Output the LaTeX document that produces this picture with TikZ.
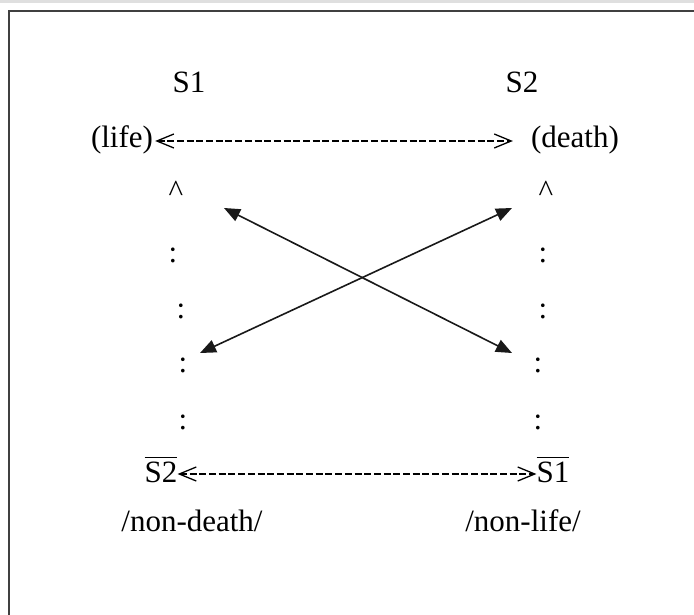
\documentclass[tikz,border=0pt]{standalone}
\usepackage{amsmath}
\usepackage{fontspec}
\setmainfont{Liberation Serif}
\usetikzlibrary{arrows.meta}

\begin{document}
\begin{tikzpicture}[x=1pt, y=-1pt,
  font=\fontsize{31}{37}\selectfont,
  term/.style={inner sep=0pt, anchor=base},
  colonmark/.style={inner sep=0pt, anchor=base},
  opposition/.style={line width=1.4pt, dash pattern=on 7pt off 2.7pt},
  barbs/.style={{Straight Barb[length=17pt,width=14pt,line width=1.3pt]}-{Straight Barb[length=17pt,width=14pt,line width=1.3pt]}},
  contradiction/.style={line width=1.6pt, draw=black!90, {Triangle[length=16pt,width=13pt]}-{Triangle[length=16pt,width=13pt]}}
]
\useasboundingbox (0,0) rectangle (694,615);

% window frame
\fill[gray!25] (0,0) rectangle (694,3);
\draw[line width=2.5pt, black!75] (9,615) -- (9,11) -- (694,11);

% square of opposition
\node[term] (s1) at (189,93) {S1};
\node[term] (s2) at (522,93) {S2};
\node[term] (life) at (122,148) {(life)};
\node[term] (death) at (575,148) {(death)};
\node[term] (nots2) at (161,482) {$\overline{\textrm{S2}}$};
\node[term] (nots1) at (553,482) {$\overline{\textrm{S1}}$};
\node[term] (nondeath) at (192,531) {/non-death/};
\node[term] (nonlife) at (523,531) {/non-life/};

% implication columns
\node[term] (upleft) at (176,202) {\textasciicircum};
\node[term] (upright) at (546,202) {\textasciicircum};
\foreach \x/\y [count=\i] in {173/262, 181/318, 183/372, 183/429}
  \node[colonmark] (lc\i) at (\x,\y) {:};
\foreach \x/\y [count=\i] in {543/262, 543/318, 538/372, 538/429}
  \node[colonmark] (rc\i) at (\x,\y) {:};

% contraries and subcontraries
\draw[opposition, barbs] ([shift={(2pt,7pt)}]life.base east) -- ([shift={(-18pt,7pt)}]death.base west);
\draw[opposition, barbs] ([yshift=8pt]nots2.base east) -- ([yshift=8pt]nots1.base west);

% contradictories
\coordinate (a1) at (224,208);
\coordinate (a2) at (512,353);
\coordinate (b1) at (200,353);
\coordinate (b2) at (512,208);
\draw[contradiction] (a1) -- (a2);
\draw[contradiction] (b1) -- (b2);

\end{tikzpicture}
\end{document}
